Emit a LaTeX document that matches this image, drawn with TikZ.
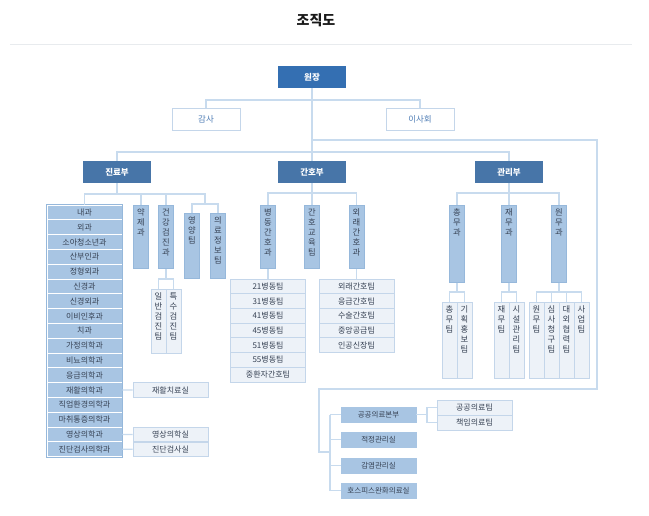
\documentclass[tikz,border=0pt]{standalone}
\usepackage{fontspec}
\setmainfont{Noto Sans CJK KR}
\definecolor{topblue}{RGB}{52,111,178}
\definecolor{deptblue}{RGB}{71,117,168}
\definecolor{midblue}{RGB}{168,197,227}
\definecolor{midline}{RGB}{150,184,219}
\definecolor{paleblue}{RGB}{237,242,248}
\definecolor{paleline}{RGB}{196,214,234}
\definecolor{linkblue}{RGB}{200,219,238}
\definecolor{sidetext}{RGB}{80,126,182}
\definecolor{darktext}{RGB}{55,66,84}
\definecolor{rulegray}{RGB}{232,235,238}
\newcommand{\vt}[2]{\parbox[c][#1][t]{15pt}{\centering\rule{0pt}{10.5pt}#2\par}}

\begin{document}
\begin{tikzpicture}[x=1pt,y=-1pt,
    link/.style={draw=linkblue,line width=1.2pt},
    headbox/.style={fill=topblue,text=white,font=\bfseries\fontsize{8.5}{9}\selectfont,minimum width=68pt,minimum height=22pt,inner sep=0pt},
    deptbox/.style={headbox,fill=deptblue},
    sidebox/.style={draw=paleline,line width=1pt,fill=white,text=sidetext,font=\fontsize{8.5}{9}\selectfont,minimum width=68pt,minimum height=22pt,inner sep=0pt},
    colbox/.style={fill=midblue,draw=midline,line width=0.6pt,text=darktext,font=\fontsize{8.3}{10}\selectfont,inner sep=0pt,anchor=north},
    subbox/.style={colbox,fill=paleblue,draw=paleline},
    rowbox/.style={fill=midblue,draw=white,line width=0.7pt,text=darktext,font=\fontsize{8}{8}\selectfont,minimum width=75pt,minimum height=14.8pt,inner sep=0pt},
    itembox/.style={rowbox,fill=paleblue,draw=paleline,minimum height=14.7pt},
    unitbox/.style={rowbox,draw=midblue,minimum height=15pt,font=\fontsize{7.5}{8}\selectfont},
  ]
  \useasboundingbox (0,0) rectangle (649,516);
  \fill[white] (0,0) rectangle (649,516);
  \node[font=\bfseries\fontsize{14}{16}\selectfont,text=black!90] (title) at (316,20) {조직도};
  \draw[rulegray,line width=1pt] (10,45) -- (632,45);

  \node[headbox] (wonjang) at (312,77) {원장};
  \node[sidebox] (gamsa) at (206,119.5) {감사};
  \node[sidebox] (isa) at (420,119.5) {이사회};
  \node[deptbox] (jinryo) at (117,172) {진료부};
  \node[deptbox] (ganho) at (312,172) {간호부};
  \node[deptbox] (gwanri) at (509,172) {관리부};

  \coordinate (jA) at (312,100);
  \coordinate (jB) at (312,152);
  \coordinate (jC) at (312,140);
  \coordinate (jD) at (597,140);
  \coordinate (jE) at (319,389);
  \coordinate (jG) at (330,452);
  \draw[link] (wonjang.south) -- (ganho.north);
  \draw[link] (gamsa.north) |- (jA) -| (isa.north);
  \draw[link] (jinryo.north) |- (jB) -| (gwanri.north);
  \draw[link] (jC) -- (jD) |- (jE) |- (jG);

  \foreach \dept [count=\i] in {내과,외과,소아청소년과,산부인과,정형외과,신경과,신경외과,이비인후과,치과,가정의학과,비뇨의학과,응급의학과,재활의학과,직업환경의학과,마취통증의학과,영상의학과,진단검사의학과}
    \node[rowbox] (r\i) at (84.5,{212.4+(\i-1)*14.8}) {\dept};
  \draw[midline,line width=0.6pt] (r1.north west) rectangle (r17.south east);
  \node[colbox] (yak) at (141,205) {\vt{63pt}{약\\제\\과}};
  \node[colbox] (geon) at (166,205) {\vt{63pt}{건\\강\\검\\진\\과}};
  \node[colbox] (yeong) at (192,213) {\vt{65pt}{영\\양\\팀}};
  \node[colbox] (uiryo) at (218,213) {\vt{65pt}{의\\료\\정\\보\\팀}};
  \node[subbox] (il) at (158.5,289) {\vt{64pt}{일\\반\\검\\진\\팀}};
  \node[subbox] (teuk) at (173.5,289) {\vt{64pt}{특\\수\\검\\진\\팀}};
  \node[itembox] (jaehwal) at (170.5,390) {재활치료실};
  \node[itembox] (yeongsil) at (170.5,434.4) {영상의학실};
  \node[itembox] (jindan) at (170.5,449.2) {진단검사실};

  \coordinate (jR) at (205,194);
  \coordinate (jR2) at (205,204);
  \coordinate (jH) at (166,279);
  \draw[link] (jinryo.south) -- (jinryo.south |- jR);
  \draw[link] (r1.north) |- (jR) -- (jR2);
  \draw[link] (yak.north) -- (yak.north |- jR);
  \draw[link] (geon.north) -- (geon.north |- jR);
  \draw[link] (yeong.north) |- (jR2) -| (uiryo.north);
  \draw[link] (geon.south) -- (jH);
  \draw[link] (il.north) |- (jH) -| (teuk.north);
  \draw[link] (r13.east) -- (jaehwal.west);
  \draw[link] (r16.east) -- (yeongsil.west);
  \draw[link] (r17.east) -- (jindan.west);

  \node[colbox] (byeong) at (268,205) {\vt{63pt}{병\\동\\간\\호\\과}};
  \node[colbox] (gyo) at (312,205) {\vt{63pt}{간\\호\\교\\육\\팀}};
  \node[colbox] (oerae) at (356.5,205) {\vt{63pt}{외\\래\\간\\호\\과}};
  \foreach \ward [count=\i] in {21병동팀,31병동팀,41병동팀,45병동팀,51병동팀,55병동팀,중환자간호팀}
    \node[itembox] (w\i) at (268,{286.35+(\i-1)*14.7}) {\ward};
  \foreach \team [count=\i] in {외래간호팀,응급간호팀,수술간호팀,중앙공급팀,인공신장팀}
    \node[itembox] (o\i) at (356.5,{286.35+(\i-1)*14.7}) {\team};
  \coordinate (jN) at (312,193);
  \draw[link] (ganho.south) -- (gyo.north);
  \draw[link] (byeong.north) |- (jN) -| (oerae.north);
  \draw[link] (byeong.south) -- (w1.north);
  \draw[link] (oerae.south) -- (o1.north);

  \node[colbox] (chong) at (457,205) {\vt{77pt}{총\\무\\과}};
  \node[colbox] (jae) at (509,205) {\vt{77pt}{재\\무\\과}};
  \node[colbox] (won) at (559,205) {\vt{77pt}{원\\무\\과}};
  \foreach \nm/\xx/\tx in {cm/449.5/{총\\무\\팀},gh/464.5/{기\\획\\홍\\보\\팀},jmt/501.5/{재\\무\\팀},sg/516.5/{시\\설\\관\\리\\팀},wm/536.5/{원\\무\\팀},sc/551.5/{심\\사\\청\\구\\팀},dh/566.5/{대\\외\\협\\력\\팀},sa/581.5/{사\\업\\팀}}
    \node[subbox] (\nm) at (\xx,302) {\vt{76pt}{\tx}};
  \coordinate (jGw) at (509,193);
  \coordinate (jCh) at (457,292);
  \coordinate (jJa) at (509,292);
  \coordinate (jWo) at (559,292);
  \draw[link] (gwanri.south) -- (jae.north);
  \draw[link] (chong.north) |- (jGw) -| (won.north);
  \draw[link] (chong.south) -- (jCh);
  \draw[link] (cm.north) |- (jCh) -| (gh.north);
  \draw[link] (jae.south) -- (jJa);
  \draw[link] (jmt.north) |- (jJa) -| (sg.north);
  \draw[link] (won.south) -- (jWo);
  \draw[link] (wm.north) |- (jWo) -| (sa.north);
  \draw[link] (sc.north) -- (sc.north |- jWo);
  \draw[link] (dh.north) -- (dh.north |- jWo);

  \node[unitbox] (pub) at (378.5,414.5) {공공의료본부};
  \node[unitbox] (jeok) at (378.5,439.5) {적정관리실};
  \node[unitbox] (gam) at (378.5,465.5) {감염관리실};
  \node[unitbox] (hos) at (378.5,490.5) {호스피스완화의료실};
  \node[itembox] (pteam) at (474.5,407.5) {공공의료팀};
  \node[itembox] (rteam) at (474.5,422.5) {책임의료팀};
  \coordinate (jP) at (427,414.5);
  \draw[link] (pub.west -| jG) -- (hos.west -| jG);
  \foreach \u in {pub,jeok,gam,hos}
    \draw[link] (\u.west -| jG) -- (\u.west);
  \draw[link] (pub.east) -- (jP);
  \draw[link] (pteam.west) -| (jP) |- (rteam.west);
\end{tikzpicture}
\end{document}
